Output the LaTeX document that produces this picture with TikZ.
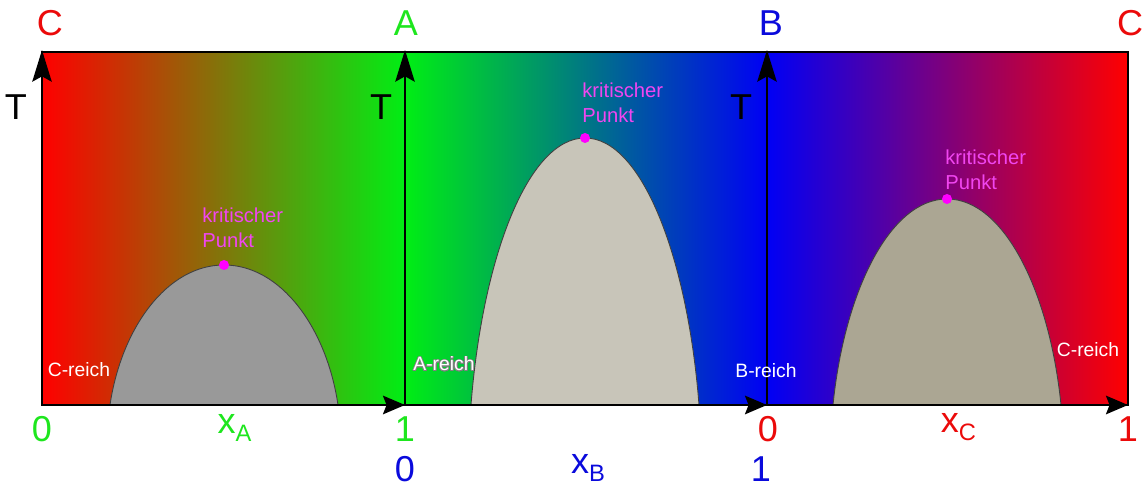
\documentclass[tikz,border=0pt]{standalone}
\usepackage{fontspec}
\setmainfont{Liberation Sans}
\usepackage{xcolor}
\usepackage{contour}
\usepackage{tikz}
\usetikzlibrary{arrows.meta}

\definecolor{cred}{RGB}{255,0,0}
\definecolor{cgreen}{RGB}{0,238,20}
\definecolor{cblue}{RGB}{0,0,245}
\definecolor{labgreen}{RGB}{30,230,30}
\definecolor{labblue}{RGB}{10,10,220}
\definecolor{labred}{RGB}{235,10,10}
\definecolor{kpcol}{RGB}{255,0,255}
\definecolor{ktext}{RGB}{240,70,240}
\definecolor{domeA}{RGB}{153,153,153}
\definecolor{domeB}{RGB}{200,197,185}
\definecolor{domeC}{RGB}{171,166,147}
\contourlength{0.45pt}
\contournumber{16}

\begin{document}
\begin{tikzpicture}[
  taxis/.style={line width=1.4pt, -{Stealth[length=18pt, width=11pt, inset=3pt]}},
  xaxis/.style={line width=1.4pt, -{Stealth[length=12.5pt, width=10.5pt, inset=2pt]}},
  dome/.style={draw=black!75, line width=0.5pt},
  kpdot/.style={circle, fill=kpcol, inner sep=0pt, minimum size=0.2cm},
  big/.style={font=\fontsize{20.5}{24}\selectfont, inner sep=0pt, anchor=base},
  reich/.style={font=\fontsize{11}{13}\selectfont, text=white, inner sep=0pt, anchor=base},
  kplabel/.style={font=\fontsize{11.5}{14.2}\selectfont, text=ktext, align=left,
    inner sep=0pt, anchor=north west}
]
\useasboundingbox (0,0) rectangle (22.86,9.74);

% coloured panels
\shade[left color=cred, right color=cgreen] (0.84,1.64) rectangle (8.10,8.70);
\shade[left color=cgreen, right color=cblue] (8.10,1.64) rectangle (15.34,8.70);
\shade[left color=cblue, right color=cred] (15.34,1.64) rectangle (22.56,8.70);

% two-phase domes
\draw[dome, fill=domeA] (2.20,1.64) .. controls (2.428,3.18) and (3.34,4.44) .. (4.48,4.44)
  .. controls (5.62,4.44) and (6.532,3.18) .. (6.76,1.64) -- cycle;
\draw[dome, fill=domeB] (9.42,1.64) .. controls (9.648,4.58) and (10.56,6.98) .. (11.70,6.98)
  .. controls (12.84,6.98) and (13.752,4.58) .. (13.98,1.64) -- cycle;
\draw[dome, fill=domeC] (16.66,1.64) .. controls (16.888,3.91) and (17.80,5.76) .. (18.94,5.76)
  .. controls (20.08,5.76) and (20.992,3.91) .. (21.22,1.64) -- cycle;

\draw[line width=0.8pt] (0.84,1.64) rectangle (22.56,8.70);

% axes
\coordinate (o1) at (0.84,1.64);
\coordinate (o2) at (8.10,1.64);
\coordinate (o3) at (15.34,1.64);
\coordinate (o4) at (22.56,1.64);
\draw[taxis] (o1) -- (0.84,8.74);
\draw[taxis] (o2) -- (8.10,8.74);
\draw[taxis] (o3) -- (15.34,8.74);
\draw[xaxis] (o1) -- (o2);
\draw[xaxis] (o2) -- (o3);
\draw[xaxis] (o3) -- (o4);

% critical points
\node[kpdot] (kp1) at (4.48,4.44) {};
\node[kpdot] (kp2) at (11.70,6.98) {};
\node[kpdot] (kp3) at (18.94,5.76) {};
\node[kplabel] (kpl1) at (4.04,5.58) {kritischer\\Punkt};
\node[kplabel] (kpl2) at (11.64,8.08) {kritischer\\Punkt};
\node[kplabel] (kpl3) at (18.90,6.74) {kritischer\\Punkt};

% corner labels
\node[big, text=labred] (cL) at (1.00,9.03) {C};
\node[big, text=labgreen] (aTop) at (8.12,9.03) {A};
\node[big, text=labblue] (bTop) at (15.42,9.03) {B};
\node[big, text=labred] (cR) at (22.60,9.03) {C};

\node[big] (t1) at (0.32,7.34) {T};
\node[big] (t2) at (7.62,7.34) {T};
\node[big] (t3) at (14.82,7.34) {T};

% rich regions
\node[reich] (cr1) at (1.58,2.20) {C-reich};
\node[reich] (ar) at (8.88,2.32) {\contour{gray}{A-reich}};
\node[reich] (br) at (15.32,2.18) {B-reich};
\node[reich] (cr2) at (21.76,2.60) {C-reich};

% composition axes
\node[big, text=labgreen] (a0) at (0.84,0.90) {0};
\node[big, text=labgreen] (xa) at (4.69,1.06) {x\raisebox{-4.5pt}{\fontsize{13.5}{15}\selectfont A}};
\node[big, text=labgreen] (a1) at (8.10,0.90) {1};
\node[big, text=labblue] (b0) at (8.10,0.10) {0};
\node[big, text=labblue] (xb) at (11.76,0.26) {x\raisebox{-4.5pt}{\fontsize{13.5}{15}\selectfont B}};
\node[big, text=labblue] (b1) at (15.22,0.10) {1};
\node[big, text=labred] (c0) at (15.36,0.90) {0};
\node[big, text=labred] (xc) at (19.17,1.08) {x\raisebox{-4.5pt}{\fontsize{13.5}{15}\selectfont C}};
\node[big, text=labred] (c1) at (22.56,0.90) {1};
\end{tikzpicture}
\end{document}
